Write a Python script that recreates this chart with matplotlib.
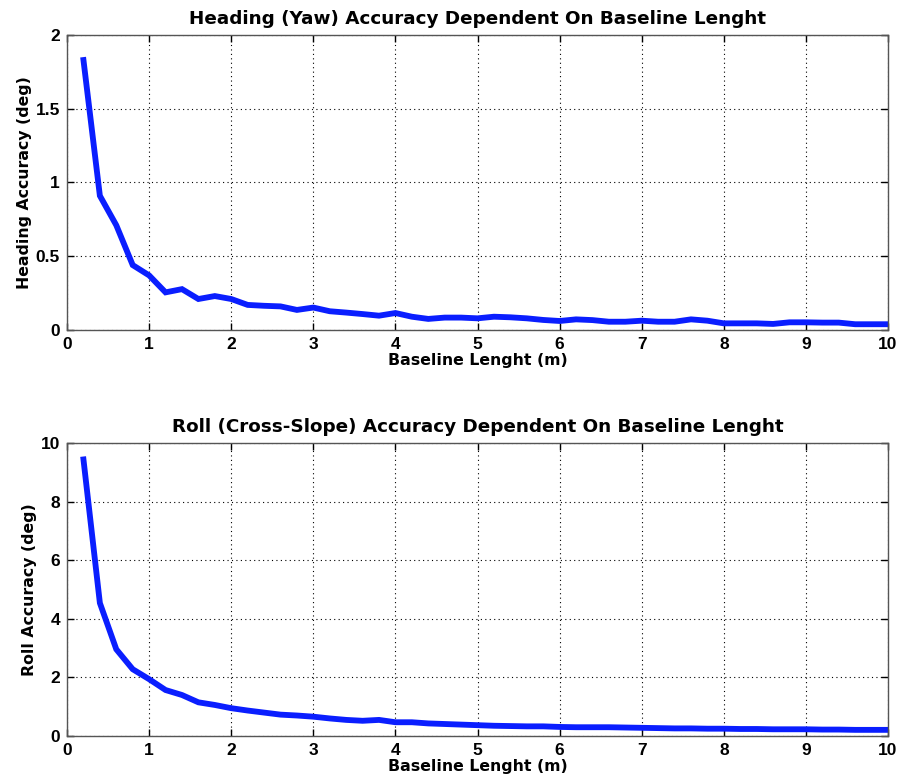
import numpy as np
import matplotlib.pyplot as plt

plt.rcParams['font.family'] = ['Liberation Sans', 'DejaVu Sans']

baseline = np.round(np.arange(0.2, 10.01, 0.2), 1)  # m

heading = [1.83, 0.91, 0.71, 0.44, 0.37, 0.255, 0.277, 0.21, 0.23, 0.21,
           0.17, 0.164, 0.16, 0.136, 0.152, 0.127, 0.118, 0.108, 0.097, 0.115,
           0.09, 0.075, 0.084, 0.084, 0.079, 0.09, 0.086, 0.079, 0.068, 0.061,
           0.072, 0.067, 0.056, 0.056, 0.063, 0.056, 0.056, 0.072, 0.063, 0.045,
           0.045, 0.045, 0.041, 0.052, 0.052, 0.05, 0.05, 0.039, 0.039, 0.039]

roll = [9.44, 4.54, 2.96, 2.28, 1.94, 1.57, 1.40, 1.15, 1.06, 0.95,
        0.87, 0.80, 0.73, 0.70, 0.66, 0.60, 0.55, 0.52, 0.55, 0.47,
        0.47, 0.43, 0.41, 0.39, 0.37, 0.35, 0.34, 0.33, 0.33, 0.31,
        0.30, 0.30, 0.30, 0.29, 0.28, 0.27, 0.26, 0.26, 0.25, 0.25,
        0.24, 0.24, 0.23, 0.23, 0.23, 0.22, 0.22, 0.21, 0.21, 0.21]

panels = [
    (heading, "Heading (Yaw) Accuracy Dependent On Baseline Lenght",
     "Heading Accuracy (deg)", (0, 2), [0, 0.5, 1, 1.5, 2], ["0", "0.5", "1", "1.5", "2"],
     [0.0744, 0.5791, 0.9112, 0.3763]),
    (roll, "Roll (Cross-Slope) Accuracy Dependent On Baseline Lenght",
     "Roll Accuracy (deg)", (0, 10), [0, 2, 4, 6, 8, 10], ["0", "2", "4", "6", "8", "10"],
     [0.0744, 0.0612, 0.9112, 0.3737]),
]

wide = ['DejaVu Sans']  # matlab-like wide bold text for titles / labels

fig = plt.figure(figsize=(9.01, 7.84), dpi=100)

for vals, title, ylabel, ylim, yticks, ylabels, pos in panels:
    ax = fig.add_axes(pos)
    ax.plot(baseline, vals, color="#0a1eff", lw=4.2, solid_joinstyle="miter")
    ax.set_xlim(0, 10)
    ax.set_ylim(*ylim)
    ax.set_xticks(range(11))
    ax.set_yticks(yticks)
    ax.set_yticklabels(ylabels)
    ax.grid(True, color="black", linestyle=(0, (1, 3)), linewidth=0.8)
    ax.tick_params(direction="in", top=True, right=True, length=5, width=1,
                   labelsize=12.5, pad=5)
    for lab in ax.get_xticklabels() + ax.get_yticklabels():
        lab.set_fontweight("bold")
    for sp in ax.spines.values():
        sp.set_color("#555555")
        sp.set_linewidth(1)
    ax.set_title(title, fontsize=13.2, fontweight="bold", pad=8, family=wide)
    ax.set_xlabel("Baseline Lenght (m)", fontsize=11.3, fontweight="bold",
                  labelpad=1, family=wide)
    ax.set_ylabel(ylabel, fontsize=11.3, fontweight="bold", labelpad=3, family=wide)

fig.savefig("out.png", dpi=100)
plt.close()
